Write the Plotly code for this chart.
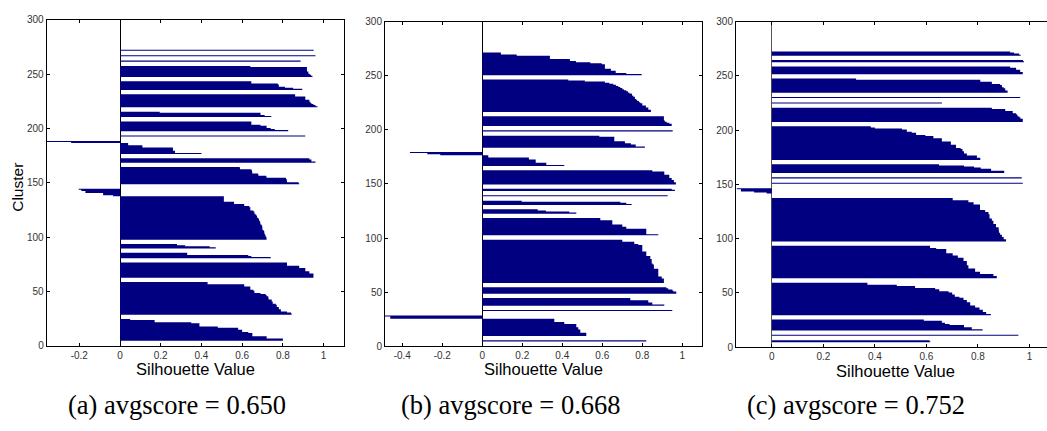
import plotly.graph_objects as go

# ---------------- data: silhouette values per cluster (bottom -> top), each sorted descending
a_clusters = [
    [0.80, 0.80, 0.72, 0.72, 0.65, 0.65, 0.65, 0.63, 0.60, 0.60, 0.58, 0.58, 0.48, 0.39, 0.39, 0.39, 0.35, 0.17, 0.17, 0.05],
    [0.843, 0.84, 0.82, 0.79, 0.79, 0.78, 0.78, 0.77, 0.77, 0.765, 0.75, 0.75, 0.745, 0.745, 0.73, 0.73, 0.728, 0.72, 0.715,
     0.69, 0.66, 0.66, 0.655, 0.64, 0.64, 0.64, 0.61, 0.61, 0.43, 0.43],
    [0.95, 0.95, 0.95, 0.95, 0.93, 0.93, 0.91, 0.91, 0.91, 0.88, 0.88, 0.82, 0.82, 0.82],
    [0.74, 0.645, 0.63, 0.33, 0.33],
    [0.47, 0.44, 0.32, 0.28],
    [0.72, 0.72, 0.718, 0.715, 0.713, 0.71, 0.71, 0.708, 0.705, 0.70, 0.70, 0.70, 0.698, 0.695, 0.69, 0.69, 0.688, 0.685,
     0.682, 0.68, 0.675, 0.672, 0.67, 0.665, 0.66, 0.66, 0.655, 0.64, 0.64, 0.64, 0.635, 0.61, 0.61, 0.56, 0.56, 0.51, 0.51,
     0.51, 0.51, 0.51,
     -0.034, -0.083, -0.083, -0.17, -0.17, -0.19, -0.203],
    [0.88, 0.877, 0.82, 0.82, 0.818, 0.815, 0.72, 0.718, 0.68, 0.678, 0.65, 0.65, 0.648, 0.645, 0.59, 0.588],
    [0.96, 0.94, 0.94, 0.93],
    [0.40, 0.27, 0.27, 0.26, 0.26, 0.26, 0.11, 0.11, 0.04, 0.04, -0.24, -0.36],
    [0.91],
    [0.826, 0.76, 0.74, 0.72, 0.72, 0.69, 0.645, 0.645, 0.645],
    [0.743, 0.71, 0.69, 0.69, 0.195],
    [0.97, 0.96, 0.95, 0.94, 0.935, 0.93, 0.93, 0.91, 0.91, 0.91, 0.86, 0.86],
    [0.895, 0.85, 0.81, 0.78, 0.78, 0.775, 0.645, 0.645],
    [0.945, 0.938, 0.932, 0.925, 0.925, 0.918, 0.918, 0.918, 0.918, 0.64],
    [0.887],
    [0.96],
    [0.951],
]

b_clusters = [
    [0.82],
    [0.52, 0.52, 0.52, 0.49, 0.49, 0.49, 0.48, 0.48, 0.47, 0.47, 0.47, 0.41, 0.41, 0.36, 0.36, 0.36, -0.46, -0.46, -0.487],
    [0.95],
    [0.91, 0.85, 0.85, 0.83, 0.83, 0.74, 0.74],
    [0.97, 0.97, 0.955, 0.95, 0.93, 0.92],
    [0.908, 0.908, 0.908, 0.908, 0.897, 0.897, 0.88, 0.88, 0.88, 0.88, 0.88, 0.88, 0.88, 0.858, 0.858, 0.858, 0.858,
     0.852, 0.847, 0.847, 0.847, 0.847, 0.84, 0.84, 0.84, 0.82, 0.82, 0.82, 0.82, 0.80, 0.80, 0.80, 0.80, 0.80, 0.80,
     0.78, 0.76, 0.76, 0.70, 0.70],
    [0.88, 0.82, 0.82, 0.82, 0.82, 0.82, 0.72, 0.72, 0.70, 0.70, 0.65, 0.65, 0.65, 0.65, 0.59, 0.59],
    [0.47, 0.435, 0.318, 0.277],
    [0.747, 0.72, 0.69, 0.197],
    [0.927],
    [0.963, 0.947],
    [0.968, 0.968, 0.958, 0.958, 0.947, 0.947, 0.935, 0.935, 0.935, 0.91, 0.91, 0.91, 0.85],
    [0.41, 0.32, 0.32, 0.267, 0.267, 0.267, 0.233, 0.233, 0.03, 0.03, -0.21, -0.275, -0.362],
    [0.813, 0.767, 0.767, 0.743, 0.713, 0.713, 0.66, 0.66, 0.66, 0.66, 0.585],
    [0.952],
    [0.947, 0.947, 0.935, 0.922, 0.913, 0.908, 0.908, 0.908, 0.908],
    [0.843, 0.843, 0.83, 0.83, 0.818, 0.818, 0.80, 0.80, 0.79, 0.783, 0.775, 0.77, 0.763, 0.763, 0.755, 0.75, 0.747,
     0.735, 0.728, 0.72, 0.708, 0.70, 0.69, 0.68, 0.668, 0.655, 0.635, 0.613, 0.513, 0.43],
    [0.797, 0.72, 0.667, 0.667, 0.643, 0.643, 0.613, 0.613, 0.613, 0.613, 0.597, 0.54, 0.468, 0.438, 0.438, 0.338,
     0.338, 0.338, 0.172, 0.093, 0.093],
]

c_clusters = [
    [0.615, 0.612],
    [0.957],
    [0.818, 0.776, 0.776, 0.746, 0.746, 0.69, 0.672, 0.66, 0.66, 0.59],
    [0.85, 0.832, 0.832, 0.819, 0.819, 0.806, 0.806, 0.789, 0.789, 0.77, 0.77, 0.77, 0.757, 0.757, 0.744, 0.744, 0.728,
     0.71, 0.71, 0.70, 0.70, 0.686, 0.65, 0.65, 0.634, 0.556, 0.556, 0.485, 0.371, 0.371],
    [0.873, 0.873, 0.86, 0.86, 0.808, 0.808, 0.789, 0.789, 0.789, 0.763, 0.763, 0.763, 0.757, 0.757, 0.757, 0.757,
     0.744, 0.744, 0.744, 0.722, 0.722, 0.702, 0.702, 0.677, 0.677, 0.677, 0.677, 0.638, 0.614, 0.614],
    [0.909, 0.909, 0.90, 0.90, 0.893, 0.893, 0.886, 0.886, 0.882, 0.882, 0.88, 0.88, 0.88, 0.87, 0.87, 0.87, 0.86, 0.86,
     0.86, 0.854, 0.854, 0.845, 0.845, 0.845, 0.845, 0.841, 0.841, 0.828, 0.828, 0.808, 0.808, 0.808, 0.808, 0.808,
     0.783, 0.783, 0.763, 0.763, 0.702, 0.702],
    [-0.02, -0.069, -0.12, -0.12, -0.136],
    [0.974],
    [0.97],
    [0.902, 0.902, 0.851, 0.851, 0.811, 0.785, 0.746, 0.649],
    [0.809, 0.809, 0.796, 0.796, 0.757, 0.757, 0.746, 0.746, 0.74, 0.74, 0.733, 0.715, 0.715, 0.715, 0.695, 0.695, 0.695,
     0.66, 0.66, 0.66, 0.627, 0.627, 0.596, 0.56, 0.56, 0.543, 0.524, 0.524, 0.505, 0.40, 0.384],
    [0.974, 0.974, 0.974, 0.965, 0.961, 0.955, 0.952, 0.948, 0.935, 0.935, 0.906, 0.906, 0.854],
    [0.66],
    [0.964],
    [0.915, 0.915, 0.906, 0.906, 0.9, 0.893, 0.893, 0.886, 0.854, 0.854, 0.809, 0.809, 0.327],
    [0.974, 0.974, 0.964, 0.964, 0.948, 0.948, 0.925],
    [0.979, 0.975],
    [0.966, 0.96, 0.94, 0.925],
]

a_xticks = [-0.2, 0, 0.2, 0.4, 0.6, 0.8, 1]
b_xticks = [-0.4, -0.2, 0, 0.2, 0.4, 0.6, 0.8, 1]
c_xticks = [0, 0.2, 0.4, 0.6, 0.8, 1]
y_ticks = [0, 50, 100, 150, 200, 250, 300]
captions = ["(a) avgscore = 0.650", "(b) avgscore = 0.668", "(c) avgscore = 0.752"]
x_title = "Silhouette Value"
y_title = "Cluster"

# ---------------- layout helpers
GAP = 4  # empty rows between clusters (MATLAB silhouette spacing)
W, H = 1047, 431
BAR_COLOR = "#000080"
TICK_FONT = dict(family="Liberation Sans, Arial, sans-serif", size=10, color="#333333")


def cluster_outline(clusters):
    """Yield step outlines (one per cluster) of unit-height horizontal bars."""
    pos = GAP
    for c in clusters:
        xs, ys = [0], [pos + 0.5]
        for v in c:
            pos += 1
            xs += [v, v]
            ys += [pos - 0.5, pos + 0.5]
        xs.append(0)
        ys.append(pos + 0.5)
        pos += GAP
        yield xs, ys


fig = go.Figure()
panels = [(a_clusters, "x", "y"), (b_clusters, "x2", "y2"), (c_clusters, "x3", "y3")]
for clusters, xa, ya in panels:
    for xs, ys in cluster_outline(clusters):
        fig.add_trace(go.Scatter(x=xs, y=ys, mode="lines", fill="toself", fillcolor=BAR_COLOR,
                                 line=dict(width=0, color=BAR_COLOR), xaxis=xa, yaxis=ya,
                                 showlegend=False, hoverinfo="skip"))

# pixel geometry of the three axes (left, right, top, bottom) and x ranges
geo = [
    dict(l=46.7, r=344.0, t=14.3, b=349.3, xr=[-0.36, 1.1], zc="black"),
    dict(l=385.0, r=702.3, t=16.0, b=350.0, xr=[-0.4865, 1.1], zc="black"),
    dict(l=736.0, r=1047.0, t=16.0, b=351.0, xr=[-0.139, 1.068], zc="#555555"),
]
xticks_list = [a_xticks, b_xticks, c_xticks]
layout = {}
for i, g in enumerate(geo):
    sx = "" if i == 0 else str(i + 1)
    xt = xticks_list[i]
    layout["xaxis" + sx] = dict(
        domain=[g["l"] / W, min(g["r"] / W, 1.0)], range=g["xr"], anchor="y" + sx,
        tickmode="array", tickvals=xt, ticktext=["%g" % v for v in xt],
        ticks="inside", ticklen=3, tickcolor="black", tickwidth=1,
        showline=True, linecolor="black", linewidth=1, mirror="ticks",
        showgrid=False, zeroline=True, zerolinecolor=g["zc"], zerolinewidth=1,
        tickfont=TICK_FONT, fixedrange=True)
    layout["yaxis" + sx] = dict(
        domain=[1 - g["b"] / H, 1 - g["t"] / H], range=[0, 300], anchor="x" + sx,
        tickmode="array", tickvals=y_ticks, ticktext=[str(v) for v in y_ticks],
        ticks="inside", ticklen=3, tickcolor="black", tickwidth=1,
        showline=True, linecolor="black", linewidth=1,
        mirror=("ticks" if i < 2 else False),
        showgrid=False, zeroline=False, tickfont=TICK_FONT, fixedrange=True)

ann = []
title_x = [195, 543.5, 895.5]
title_y = [373, 373, 375]
for i in range(3):
    ann.append(dict(text=x_title, x=title_x[i] / W, y=1 - title_y[i] / H, xref="paper", yref="paper",
                    xanchor="center", yanchor="middle", showarrow=False,
                    font=dict(family="Liberation Sans, Arial, sans-serif", size=16.5, color="black")))
ann.append(dict(text=y_title, x=18 / W, y=1 - 187 / H, xref="paper", yref="paper", textangle=-90,
                xanchor="center", yanchor="middle", showarrow=False,
                font=dict(family="Liberation Sans, Arial, sans-serif", size=15.5, color="black")))
cap_x = [177, 511, 856]
for i in range(3):
    ann.append(dict(text=captions[i], x=cap_x[i] / W, y=1 - 410 / H, xref="paper", yref="paper",
                    xanchor="center", yanchor="middle", showarrow=False,
                    font=dict(family="Liberation Serif, Times New Roman, serif", size=26.5, color="black")))

fig.update_layout(width=W, height=H, margin=dict(l=0, r=0, t=0, b=0),
                  paper_bgcolor="white", plot_bgcolor="white", annotations=ann, **layout)
fig.write_html("out.html", config={"displayModeBar": False},
               post_script="document.body.style.margin='0';")
